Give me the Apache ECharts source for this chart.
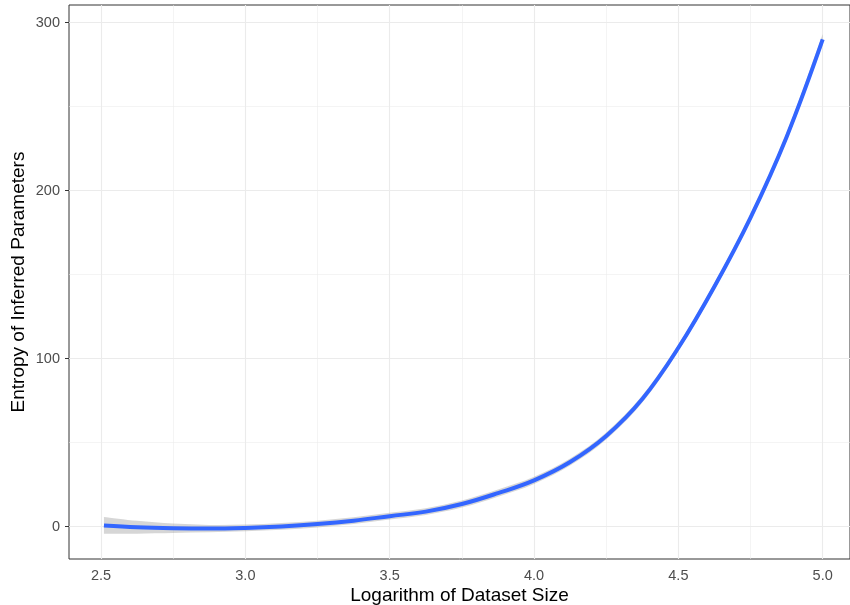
<!DOCTYPE html>
<html>
<head>
<meta charset="utf-8">
<script src="https://cdn.jsdelivr.net/npm/echarts@6/dist/echarts.min.js"></script>
<style>html,body{margin:0;padding:0;background:#fff}#c{width:850px;height:605px}</style>
</head>
<body>
<div id="c"></div>
<script>
// ---- data ----
const xVals   = [2.51, 2.625, 2.75, 2.875, 3.0, 3.125, 3.25, 3.375, 3.5, 3.625, 3.75, 3.875, 4.0, 4.125, 4.25, 4.375, 4.5, 4.625, 4.75, 4.875, 5.0];
const fitVals = [0.8, -0.3, -0.9, -1.1, -0.7, 0.2, 1.6, 3.6, 6.3, 9.0, 13.5, 20.0, 27.6, 38.5, 54, 76, 106.5, 143, 184, 232, 290];
const seHalf  = [5.0, 3.8, 2.8, 2.2, 2.0, 2.0, 2.0, 2.0, 2.0, 2.0, 2.1, 2.1, 2.1, 2.1, 2.1, 2.1, 2.0, 2.0, 2.1, 2.4, 3.2];
const xTicks  = [2.5, 3.0, 3.5, 4.0, 4.5, 5.0];
const xMinor  = [2.75, 3.25, 3.75, 4.25, 4.75];
const yTicks  = [0, 100, 200, 300];
const yMinor  = [50, 150, 250];
const xLabelText = ['2.5', '3.0', '3.5', '4.0', '4.5', '5.0'];
const xTitle = 'Logarithm of Dataset Size';
const yTitle = 'Entropy of Inferred Parameters';

const bandData = xVals.map((x, i) => [x, fitVals[i] - seHalf[i], fitVals[i] + seHalf[i]]);
const fit = xVals.map((x, i) => [x, fitVals[i]]);

const gridLines = [];
xTicks.forEach(v => gridLines.push({xAxis: v, lineStyle: {width: 1.1}}));
xMinor.forEach(v => gridLines.push({xAxis: v, lineStyle: {width: 0.55}}));
yTicks.forEach(v => gridLines.push({yAxis: v, lineStyle: {width: 1.1}}));
yMinor.forEach(v => gridLines.push({yAxis: v, lineStyle: {width: 0.55}}));

const font = '"Liberation Sans", Arial, Helvetica, sans-serif';
const chart = echarts.init(document.getElementById('c'), null, {renderer: 'canvas'});

// Catmull-Rom spline through pixel points -> SVG path segments
function splineSegs(p) {
  let d = '';
  for (let i = 0; i < p.length - 1; i++) {
    const p0 = p[i - 1] || p[i], p1 = p[i], p2 = p[i + 1], p3 = p[i + 2] || p[i + 1];
    const c1 = [p1[0] + (p2[0] - p0[0]) / 6, p1[1] + (p2[1] - p0[1]) / 6];
    const c2 = [p2[0] - (p3[0] - p1[0]) / 6, p2[1] - (p3[1] - p1[1]) / 6];
    d += ' C' + c1[0] + ',' + c1[1] + ' ' + c2[0] + ',' + c2[1] + ' ' + p2[0] + ',' + p2[1];
  }
  return d;
}

function renderBand(params, api) {
  if (params.dataIndex !== 0) return null;
  const upper = [], lower = [];
  for (let i = 0; i < bandData.length; i++) {
    upper.push(api.coord([bandData[i][0], bandData[i][2]]));
    lower.push(api.coord([bandData[i][0], bandData[i][1]]));
  }
  lower.reverse();
  const d = 'M' + upper[0][0] + ',' + upper[0][1] + splineSegs(upper) +
            ' L' + lower[0][0] + ',' + lower[0][1] + splineSegs(lower) + ' Z';
  return {
    type: 'path',
    shape: {pathData: d},
    style: {fill: 'rgba(153,153,153,0.4)', stroke: null}
  };
}

chart.setOption({
  animation: false,
  backgroundColor: '#ffffff',
  grid: {left: 69, right: 0, top: 5, bottom: 46, outerBoundsMode: 'none', containLabel: false,
         show: true, borderColor: '#333333', borderWidth: 1, backgroundColor: '#ffffff'},
  xAxis: {
    type: 'value', min: 2.389, max: 5.0946,
    name: xTitle, nameLocation: 'middle', nameGap: 27, nameMoveOverlap: false,
    nameTextStyle: {fontFamily: font, fontSize: 19, color: '#000'},
    axisLine: {show: false},
    splitLine: {show: false},
    axisTick: {show: true, length: 4, customValues: xTicks, lineStyle: {color: '#333', width: 1}},
    axisLabel: {customValues: xTicks, formatter: v => xLabelText[xTicks.indexOf(v)] ?? v.toFixed(1), fontFamily: font, fontSize: 14.5, color: '#4d4d4d', margin: 9}
  },
  yAxis: {
    type: 'value', min: -19.2, max: 310.5,
    name: yTitle, nameLocation: 'middle', nameGap: 41, nameMoveOverlap: false,
    nameTextStyle: {fontFamily: font, fontSize: 19, color: '#000'},
    axisLine: {show: false},
    splitLine: {show: false},
    axisTick: {show: true, length: 4, customValues: yTicks, lineStyle: {color: '#333', width: 1}},
    axisLabel: {customValues: yTicks, fontFamily: font, fontSize: 14.5, color: '#4d4d4d', margin: 9}
  },
  series: [
    {type: 'line', data: [], silent: true, z: 1,
     markLine: {silent: true, z: 1, symbol: ['none', 'none'], label: {show: false}, animation: false,
                lineStyle: {color: '#ebebeb', type: 'solid'}, data: gridLines}},
    {type: 'custom', data: bandData, renderItem: renderBand, silent: true, z: 2, clip: true},
    {type: 'line', data: fit, smooth: 0.4, symbol: 'none', lineStyle: {color: '#3366ff', width: 4}, z: 10}
  ]
});
</script>
</body>
</html>
